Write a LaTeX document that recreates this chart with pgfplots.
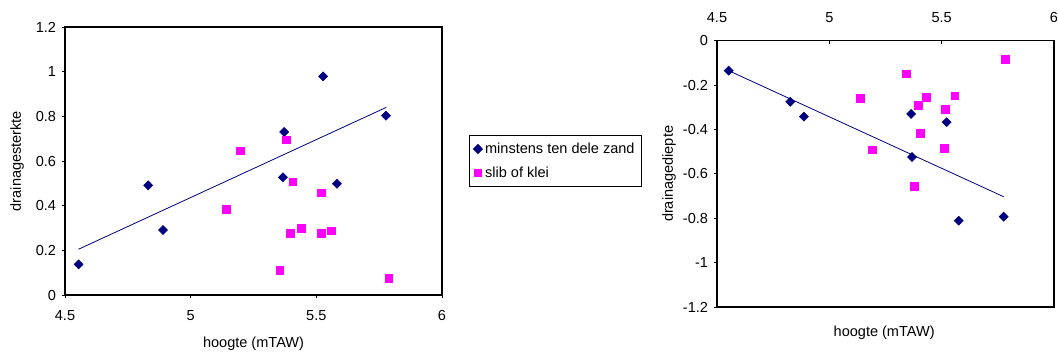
\documentclass[border=0pt]{standalone}
\usepackage{fontspec}
\setmainfont{Liberation Sans}
\usepackage{pgfplots}
\pgfplotsset{compat=1.18}
\definecolor{navy}{RGB}{0,0,128}
\definecolor{pinkm}{RGB}{255,0,255}
\begin{document}
\begin{tikzpicture}
\path[use as bounding box] (0,0) rectangle (793.5pt,-264.75pt);
\pgfplotsset{
  every axis/.append style={
    scale only axis,
    /pgf/number format/assume math mode=true,
    tick label style={font=\fontsize{10.9}{13}\selectfont},
    label style={font=\fontsize{10.9}{13}\selectfont},
    axis line style={line width=0.8pt},
    major tick length=2.2pt,
    tick style={black, line width=0.6pt},
  },
  dia/.style={only marks, mark=diamond*, mark size=3.4pt, mark options={fill=navy, draw=navy, xscale=1.33}, color=navy},
  sq/.style={only marks, mark=square*, mark size=2.9pt, mark options={fill=pinkm, draw=pinkm}, color=pinkm},
}
% Left chart
\begin{axis}[
  at={(48.75pt,-221.25pt)}, anchor=south west,
  width=282.75pt, height=201pt,
  xmin=4.5, xmax=6, ymin=0, ymax=1.2,
  xtick={4.5,5,5.5,6}, ytick={0,0.2,0.4,0.6,0.8,1,1.2},
  yticklabels={0,0.2,0.4,0.6,0.8,1,1.2},
  xticklabels={4.5,5,5.5,6},
  tick align=outside, xtick pos=bottom, ytick pos=left,
  xticklabel style={yshift=-6pt},
  yticklabel style={xshift=-1pt},
  xlabel={hoogte (mTAW)}, ylabel={drainagesterkte},
  xlabel style={at={(axis description cs:0.5,-0.183)}, anchor=center},
  ylabel style={at={(axis description cs:-0.127,0.5)}, anchor=center},
  clip=false,
  legend style={at={(1.0716,0.597)}, anchor=north west, draw=black, line width=0.6pt,
    font=\fontsize{10.9}{13}\selectfont, inner xsep=3pt, inner ysep=3.5pt, row sep=4.5pt,
    legend cell align=left},
  legend image code/.code={\draw[#1] plot coordinates {(0.12cm,0cm)};},
]
\addplot[navy, line width=0.6pt, forget plot] coordinates {(4.554,0.205) (5.778,0.840)};
\addplot[dia] coordinates {
(4.554,0.137) (4.831,0.491) (4.890,0.291) (5.372,0.730) (5.367,0.527)
(5.527,0.979) (5.582,0.498) (5.777,0.803)};
\addlegendentry{minstens ten dele zand}
\addplot[sq] coordinates {
(5.196,0.646) (5.142,0.385) (5.380,0.695) (5.406,0.507) (5.521,0.458)
(5.397,0.276) (5.441,0.300) (5.521,0.276) (5.558,0.288) (5.355,0.111) (5.788,0.075)};
\addlegendentry{slib of klei}
\end{axis}
% Right chart
\begin{axis}[
  at={(537.75pt,-230.25pt)}, anchor=south west,
  width=252.75pt, height=199.7pt,
  xmin=4.5, xmax=6, ymin=-1.2, ymax=0,
  xtick={4.5,5,5.5,6}, ytick={-1.2,-1,-0.8,-0.6,-0.4,-0.2,0},
  xticklabels={4.5,5,5.5,6},
  yticklabels={-1.2,-1,-0.8,-0.6,-0.4,-0.2,0},
  xticklabel pos=top, xtick pos=top, ytick pos=left,
  xtick align=inside, ytick align=outside,
  xticklabel style={yshift=10pt},
  yticklabel style={xshift=-1pt},
  xlabel={hoogte (mTAW)}, ylabel={drainagediepte},
  xlabel style={at={(axis description cs:0.496,-0.098)}, anchor=center},
  ylabel style={at={(axis description cs:-0.142,0.5)}, anchor=center},
  clip=false,
]
\addplot[navy, line width=0.6pt, forget plot] coordinates {(4.552,-0.135) (5.776,-0.703)};
\addplot[dia] coordinates {
(4.552,-0.135) (4.826,-0.275) (4.887,-0.342) (5.364,-0.330) (5.368,-0.524)
(5.522,-0.367) (5.576,-0.811) (5.776,-0.793)};
\addplot[sq] coordinates {
(5.137,-0.258) (5.191,-0.491) (5.344,-0.149) (5.395,-0.290) (5.433,-0.254)
(5.405,-0.418) (5.377,-0.655) (5.515,-0.308) (5.513,-0.485) (5.558,-0.248) (5.782,-0.084)};
\end{axis}
\end{tikzpicture}
\end{document}
